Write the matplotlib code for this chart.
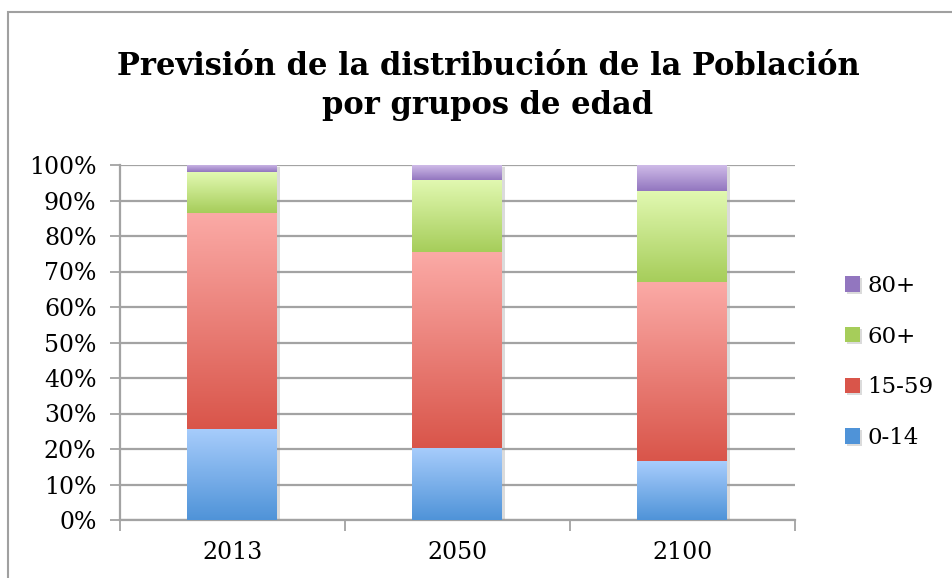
import numpy as np
import matplotlib.pyplot as plt
from matplotlib.colors import LinearSegmentedColormap
from matplotlib.patches import Rectangle
import matplotlib.patheffects as pe

years = ['2013', '2050', '2100']
groups = ['0-14', '15-59', '60+', '80+']
share_0_14 = [25.7, 20.3, 16.6]
share_15_59 = [60.8, 55.2, 50.4]
share_60 = [11.5, 20.3, 25.7]
share_80 = [2.0, 4.2, 7.3]

# (top colour, bottom colour) for each band's vertical gradient
GRADIENTS = {
    '0-14': ('#a8cdfc', '#4f93d8'),
    '15-59': ('#fbaaa6', '#d9554a'),
    '60+': ('#e2f9b2', '#a6cd5a'),
    '80+': ('#cfbbe8', '#9276bf'),
}

plt.rcParams['font.family'] = ['DejaVu Serif']

fig = plt.figure(figsize=(9.53, 5.78), dpi=100)
ax = fig.add_axes([120 / 953, 1 - 520 / 578, 675 / 953, 355 / 578])

x = np.arange(len(years))
bottom = np.zeros(len(years))
handles = []
for name, vals in zip(groups, [share_0_14, share_15_59, share_60, share_80]):
    top_c, bot_c = GRADIENTS[name]
    bars = ax.bar(x, vals, width=0.4, bottom=bottom, color=bot_c, linewidth=0,
                  zorder=3, label=name,
                  path_effects=[pe.SimplePatchShadow(offset=(1.5, -1.5), shadow_rgbFace='#999999', alpha=0.35),
                                pe.Normal()])
    cmap = LinearSegmentedColormap.from_list(name, [bot_c, top_c])
    grad = np.linspace(0, 1, 256).reshape(-1, 1)
    for b in bars:
        x0, y0 = b.get_x(), b.get_y()
        ax.imshow(grad, cmap=cmap, origin='lower', aspect='auto', zorder=3.5,
                  extent=(x0, x0 + b.get_width(), y0, y0 + b.get_height()))
    handles.append(bars)
    bottom += np.array(vals)

ax.set_xlim(-0.5, 2.5)
ax.set_ylim(0, 100)

grid_c = '#a3a3a3'
ax.set_yticks(np.arange(0, 101, 10))
ax.set_yticklabels([f'{v}%' for v in range(0, 101, 10)], fontsize=17)
ax.yaxis.grid(True, color=grid_c, linewidth=1.6, zorder=0)
ax.tick_params(axis='y', direction='out', length=7, width=1.3, color=grid_c, pad=10)

ax.set_xticks([-0.5, 0.5, 1.5, 2.5])
ax.set_xticklabels([])
ax.set_xticks(x, minor=True)
ax.set_xticklabels(years, minor=True, fontsize=17)
ax.tick_params(axis='x', which='major', direction='out', length=8, width=1.3, color=grid_c)
ax.tick_params(axis='x', which='minor', length=0, pad=15)

for side in ['top', 'right']:
    ax.spines[side].set_visible(False)
for side in ['left', 'bottom']:
    ax.spines[side].set_color(grid_c)
    ax.spines[side].set_linewidth(1.6)

leg = fig.legend(handles[::-1], groups[::-1], loc='center left',
                 bbox_to_anchor=(824 / 953, 1 - 362 / 578), frameon=False,
                 fontsize=16.5, handlelength=0.65, handleheight=0.65,
                 handletextpad=0.35, labelspacing=1.25)

fig.text(488 / 953, 1 - 86 / 578,
         'Previsión de la distribución de la Población\npor grupos de edad',
         ha='center', va='center', fontsize=22, fontweight='bold',
         linespacing=1.35)

fig.patches.append(Rectangle((8.5 / 953, -0.1), 1.2, 1.1 - 12 / 578,
                             transform=fig.transFigure, fill=False,
                             edgecolor='#a0a0a0', linewidth=1.5))

fig.savefig('out.png', dpi=100)
